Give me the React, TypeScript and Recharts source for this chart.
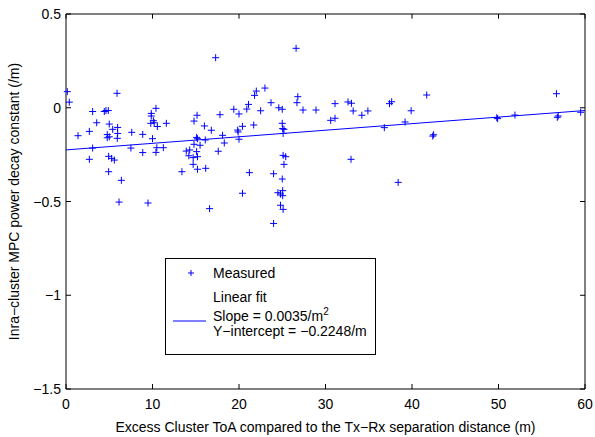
import { Scatter, ScatterChart, XAxis, YAxis } from "recharts";

// excess cluster ToA (m)
const toa = [
  0.15, 0.38, 1.39, 2.7, 2.7, 3.08, 3.08, 3.55, 4.43, 4.62, 4.89, 4.77, 4.77, 5.0, 5.0, 5.4, 5.97, 5.97, 5.93, 5.9,
  4.93, 5.28, 5.59, 4.93, 6.4, 6.13, 7.5, 7.6, 8.87, 8.87, 9.48, 9.86, 9.86, 9.8, 10.1, 10.2, 10.0, 10.4, 10.56, 10.4,
  10.5, 11.25, 11.6, 13.4, 13.9, 14.3, 14.2, 14.7, 15.2, 14.7, 15.2, 16.15, 15.1, 14.8, 15.5, 15.1, 15.2, 16.1, 14.8, 15.15,
  16.0, 16.8, 16.6, 17.3, 17.8, 18.1, 18.3, 17.6, 19.4, 20.0, 19.85, 19.9, 20.0, 20.4, 20.4, 20.9, 21.1, 21.2, 21.7, 21.8,
  22.0, 22.5, 23.0, 23.7, 24.0, 24.0, 24.5, 24.6, 24.8, 24.8, 25.0, 25.0, 25.0, 25.05, 25.2, 25.1, 25.1, 25.4, 25.2, 25.05,
  25.05, 25.1, 26.6, 26.7, 26.8, 27.4, 28.9, 30.6, 31.1, 31.1, 32.6, 33.0, 32.95, 33.2, 34.2, 34.9, 36.8, 37.4, 37.65, 38.4,
  39.2, 39.9, 41.7, 42.4, 42.5, 49.8, 49.9, 51.9, 56.7, 56.8, 56.9, 59.5,
];

// intra-cluster power decay constant (/m)
const decay = [
  0.086, 0.03, -0.149, -0.126, -0.275, -0.02, -0.215, -0.08, -0.02, -0.015, -0.015, -0.143, -0.16, -0.155, -0.087, -0.115, -0.105, -0.137, -0.163, 0.077,
  -0.259, -0.27, -0.279, -0.341, -0.387, -0.503, -0.215, -0.131, -0.142, -0.239, -0.508, -0.03, -0.044, -0.083, -0.069, -0.08, -0.165, -0.003, -0.1, -0.238,
  -0.213, -0.213, -0.083, -0.341, -0.231, -0.225, -0.256, -0.266, -0.261, -0.302, -0.328, -0.323, -0.234, -0.195, -0.2, -0.158, -0.165, -0.172, -0.071, -0.04,
  -0.097, -0.12, -0.538, 0.267, -0.037, -0.147, -0.188, -0.232, -0.008, -0.033, -0.119, -0.129, -0.168, -0.099, -0.456, -0.007, 0.018, -0.346, -0.092, 0.066,
  0.089, -0.016, 0.105, 0.027, -0.352, -0.617, -0.453, 0.0, -0.46, -0.52, -0.008, -0.083, -0.38, -0.111, -0.115, -0.137, -0.254, -0.261, -0.302, -0.442,
  -0.469, -0.542, 0.317, 0.027, 0.059, -0.012, -0.012, -0.067, -0.056, 0.022, 0.031, 0.024, -0.275, -0.017, -0.04, -0.017, -0.106, 0.022, 0.032, -0.398,
  -0.076, -0.016, 0.068, -0.151, -0.144, -0.053, -0.058, -0.039, 0.075, -0.051, -0.044, -0.024,
];

// linear fit endpoints
const fitX = [0, 60];
const fitY = [-0.2248, -0.0148];

const xTicks = [0, 10, 20, 30, 40, 50, 60];
const yTicks = [0.5, 0, -0.5, -1, -1.5];

const measured = toa.map((x, i) => ({ x, y: decay[i] }));
const fit = fitX.map((x, i) => ({ x, y: fitY[i] }));

const X_MAX = 60;
const Y_MAX = 0.5;
const Y_MIN = -1.5;
// top and right edges of the box
const frame = [
  { x: 0, y: Y_MAX },
  { x: X_MAX, y: Y_MAX },
  { x: X_MAX, y: Y_MIN },
];

const BLUE = "#0000ff";
const FONT = "'Liberation Sans', Arial, sans-serif";
const TICK = 5;
// inward tick length in data units for top/right frame ticks
const TICK_X = 0.58;
const TICK_Y = 0.025;

const Plus = (p: any) => (
  <g stroke={BLUE} strokeWidth={1}>
    <line x1={p.cx - 3.5} x2={p.cx + 3.5} y1={p.cy} y2={p.cy} />
    <line x1={p.cx} x2={p.cx} y1={p.cy - 3.5} y2={p.cy + 3.5} />
  </g>
);
const Nothing = () => <g />;

// label + inward tick mark
const LeftTick = (p: any) => (
  <g>
    <line x1={p.x + 5} x2={p.x + 5 + TICK} y1={p.y} y2={p.y} stroke="#000" />
    <text x={p.x} y={p.y} dy={5} textAnchor="end" fontSize={14} fontFamily={FONT} fill="#000">
      {String(p.payload.value).replace("-", "\u2212")}
    </text>
  </g>
);
const BottomTick = (p: any) => (
  <g>
    <line x1={p.x} x2={p.x} y1={p.y - 8} y2={p.y - 8 - TICK} stroke="#000" />
    <text x={p.x} y={p.y} dy={12} textAnchor="middle" fontSize={14} fontFamily={FONT} fill="#000">
      {p.payload.value}
    </text>
  </g>
);

export default function App() {
  return (
    <div style={{ position: "absolute", left: 0, top: 0, width: 595, height: 437, background: "#fff", fontFamily: FONT }}>
      <ScatterChart width={595} height={437} margin={{ top: 14, right: 10, bottom: 0, left: 0 }}>
        <XAxis
          type="number"
          dataKey="x"
          domain={[0, X_MAX]}
          ticks={xTicks}
          height={48}
          tickSize={0}
          tickMargin={8}
          tick={BottomTick}
          axisLine={{ stroke: "#000" }}
          label={{ value: "Excess Cluster ToA compared to the Tx\u2212Rx separation distance (m)", position: "insideBottom", offset: 5, fontSize: 14, fill: "#000", fontFamily: FONT }}
        />
        <YAxis
          type="number"
          dataKey="y"
          domain={[Y_MIN, Y_MAX]}
          ticks={yTicks}
          width={66}
          tickSize={0}
          tickMargin={5}
          tick={LeftTick}
          axisLine={{ stroke: "#000" }}
          label={{ value: "Inra\u2212cluster MPC power decay constant (/m)", angle: -90, position: "insideLeft", offset: 14, fontSize: 14, fill: "#000", fontFamily: FONT, style: { textAnchor: "middle" } }}
        />
        <Scatter data={frame} line={{ stroke: "#000", strokeWidth: 1 }} shape={Nothing} isAnimationActive={false} />
        {xTicks.map((t) => (
          <Scatter
            key={"tx" + t}
            data={[{ x: t, y: Y_MAX }, { x: t, y: Y_MAX - TICK_Y }]}
            line={{ stroke: "#000", strokeWidth: 1 }}
            shape={Nothing}
            isAnimationActive={false}
          />
        ))}
        {yTicks.map((t) => (
          <Scatter
            key={"ty" + t}
            data={[{ x: X_MAX, y: t }, { x: X_MAX - TICK_X, y: t }]}
            line={{ stroke: "#000", strokeWidth: 1 }}
            shape={Nothing}
            isAnimationActive={false}
          />
        ))}
        <Scatter data={measured} shape={Plus} isAnimationActive={false} />
        <Scatter data={fit} line={{ stroke: BLUE, strokeWidth: 1 }} shape={Nothing} isAnimationActive={false} />
      </ScatterChart>
      <div
        style={{
          position: "absolute",
          left: 165,
          top: 258,
          width: 209,
          height: 95,
          border: "1px solid #000",
          background: "#fff",
          fontSize: 14,
          color: "#000",
        }}
      >
        <svg width={209} height={95} style={{ position: "absolute", left: 0, top: 0 }}>
          <g stroke={BLUE} strokeWidth={1}>
            <line x1={22} x2={28} y1={14} y2={14} />
            <line x1={25} x2={25} y1={11} y2={17} />
            <line x1={7} x2={40} y1={62} y2={62} />
          </g>
          <g fontSize={14} fontFamily={FONT} fill="#000">
            <text x={47} y={19}>Measured</text>
            <text x={47} y={43}>Linear fit</text>
            <text x={47} y={62}>
              Slope = 0.0035/m<tspan dy={-6} fontSize={10}>2</tspan>
            </text>
            <text x={47} y={77}>Y{"\u2212"}intercept = {"\u2212"}0.2248/m</text>
          </g>
        </svg>
      </div>
    </div>
  );
}
